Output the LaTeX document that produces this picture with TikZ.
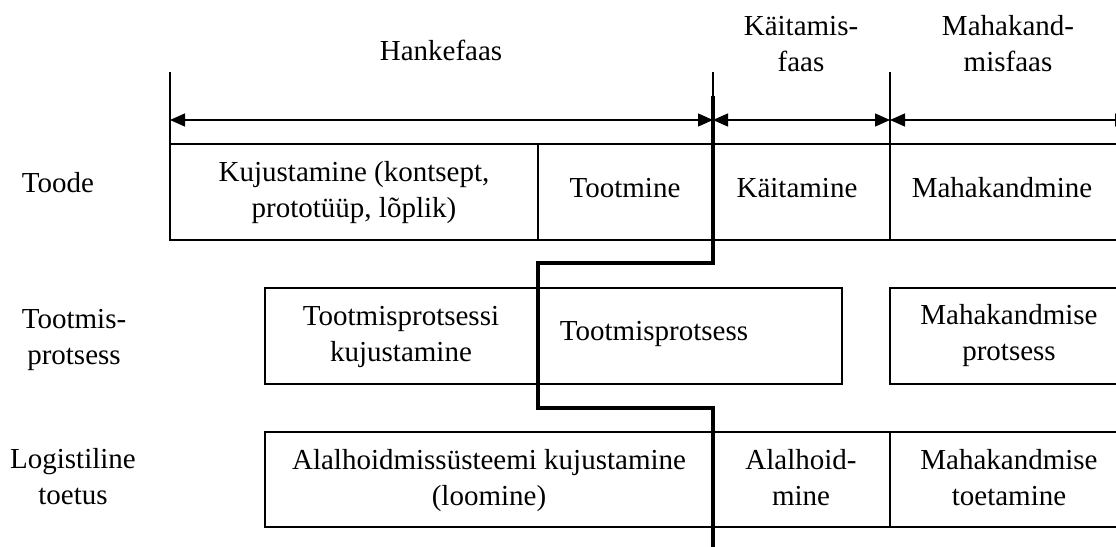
\documentclass[tikz,border=0pt]{standalone}
\usepackage{fontspec}
\setmainfont{Liberation Serif}
\usetikzlibrary{arrows.meta}
\begin{document}
\begin{tikzpicture}[x=1pt,y=-1pt,
  gridline/.style={line width=1.2pt},
  phasearrow/.style={line width=1.4pt,
    {Triangle[length=15pt,width=13pt]}-{Triangle[length=15pt,width=13pt]}},
  cutline/.style={line width=3.8pt},
  lbl/.style={font=\fontsize{29}{36}\selectfont,align=center,inner sep=0pt}]
\useasboundingbox (0,0) rectangle (1116,546);
\clip (0,0) rectangle (1116,546);

% phase boundary ticks
\draw[gridline] (170,72) -- (170,144);
\draw[gridline] (713,72) -- (713,100);
\draw[gridline] (890,72) -- (890,144);

% row: Toode
\draw[gridline] (170,144) rectangle (1130,240);
\draw[gridline] (538,144) -- (538,240);
\draw[gridline] (890,144) -- (890,240);

% row: Tootmisprotsess
\draw[gridline] (265,288) rectangle (842,384);
\draw[gridline] (890,288) rectangle (1130,384);

% row: Logistiline toetus
\draw[gridline] (265,432) rectangle (1130,527);
\draw[gridline] (890,432) -- (890,527);

% phase arrows
\coordinate (tA) at (170,120);
\coordinate (tB) at (713,120);
\coordinate (tC) at (890,120);
\coordinate (tD) at (1130,120);
\draw[phasearrow] (tA) -- (tB);
\draw[phasearrow] (tB) -- (tC);
\draw[phasearrow] (tC) -- (tD);

% milestone line
\coordinate (c0) at (713,96);
\coordinate (c1) at (713,263);
\coordinate (c2) at (538,263);
\coordinate (c3) at (538,408);
\coordinate (c4) at (713,408);
\coordinate (c5) at (713,550);
\draw[cutline] (c0) -- (c1) -- (c2) -- (c3) -- (c4) -- (c5);

% phase titles
\node[lbl] (hanke) at (441,53.5) {\strut Hankefaas};
\node[lbl] (kaitfaas) at (801,46.3) {\strut Käitamis-\\\strut faas};
\node[lbl] (mahafaas) at (1008,46.3) {\strut Mahakand-\\\strut misfaas};

% row titles
\node[lbl] (toode) at (58,184.8) {\strut Toode};
\node[lbl] (tprots) at (74,338.8) {\strut Tootmis-\\\strut protsess};
\node[lbl] (logist) at (73,479.3) {\strut Logistiline\\\strut toetus};

% Toode cells
\node[lbl] (kuj) at (354,192.3) {\strut Kujustamine (kontsept,\\\strut prototüüp, lõplik)};
\node[lbl] (tootmine) at (625,189.8) {\strut Tootmine};
\node[lbl] (kaitamine) at (797,189.8) {\strut Käitamine};
\node[lbl] (mahakandmine) at (1002,189.8) {\strut Mahakandmine};

% Tootmisprotsess cells
\node[lbl] (tpkuj) at (401,336.3) {\strut Tootmisprotsessi\\\strut kujustamine};
\node[lbl] (tp) at (654,332.8) {\strut Tootmisprotsess};
\node[lbl] (mkp) at (1009,335.3) {\strut Mahakandmise\\\strut protsess};

% Logistiline toetus cells
\node[lbl] (aluskuj) at (489,480) {\strut Alalhoidmissüsteemi kujustamine\\\strut (loomine)};
\node[lbl] (alalhoid) at (801,480) {\strut Alalhoid-\\\strut mine};
\node[lbl] (mkt) at (1009,480) {\strut Mahakandmise\\\strut toetamine};
\end{tikzpicture}
\end{document}
